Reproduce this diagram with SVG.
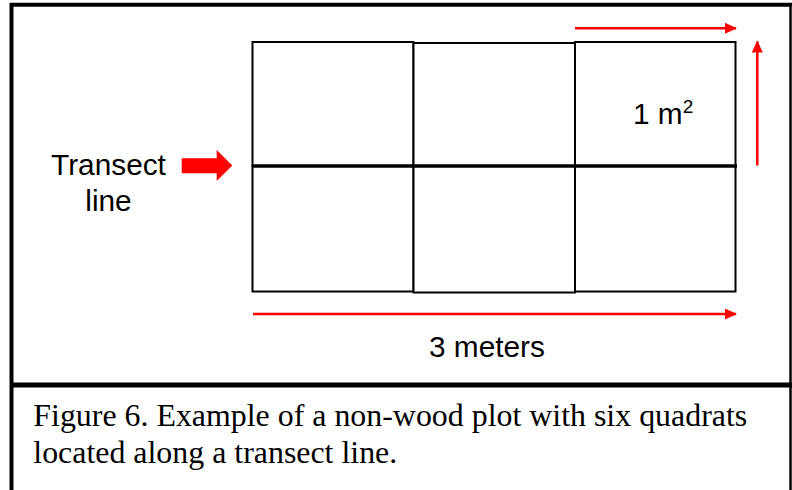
<svg xmlns="http://www.w3.org/2000/svg" width="792" height="490" viewBox="0 0 792 490">
<defs>
<style>
.frame{fill:none;stroke:#000}
.cell{fill:#fff;stroke:#000;stroke-width:2}
.red{stroke:#ff0000;stroke-width:2.5;fill:none}
.lbl{font-family:"Liberation Sans",Arial,sans-serif;font-size:29.8px;fill:#000}
.cap{font-family:"Liberation Serif","Times New Roman",serif;font-size:31.9px;fill:#000}
</style>
<marker id="ah" markerWidth="12" markerHeight="11" refX="11" refY="5.5" orient="auto" markerUnits="userSpaceOnUse">
<path d="M0,0 L12,5.5 L0,11 Z" fill="#ff0000"/>
</marker>
</defs>
<rect width="792" height="490" fill="#fff"/>
<g id="frame">
<line class="frame" x1="11.5" y1="3" x2="11.5" y2="490" stroke-width="4"/>
<line class="frame" x1="10" y1="4.8" x2="792" y2="4.8" stroke-width="4"/>
<line class="frame" x1="790.5" y1="3" x2="790.5" y2="490" stroke-width="2.5"/>
<line class="frame" x1="10" y1="385" x2="792" y2="385" stroke-width="5"/>
</g>
<g id="quadrats">
<rect id="q1" class="cell" x="252.5" y="42" width="161" height="124"/>
<rect id="q2" class="cell" x="413.5" y="43" width="161.5" height="124"/>
<rect id="q3" class="cell" x="575" y="42" width="160.5" height="124"/>
<rect id="q4" class="cell" x="252.5" y="166" width="161" height="125.5"/>
<rect id="q5" class="cell" x="413.5" y="166" width="161.5" height="126.5"/>
<rect id="q6" class="cell" x="575" y="166" width="160.5" height="125.5"/>
</g>
<g id="transect">
<line x1="252" y1="166" x2="737" y2="166" stroke="#000" stroke-width="3.5"/>
</g>
<g id="connectors">
<line class="red" x1="575" y1="28.3" x2="736" y2="28.3" marker-end="url(#ah)"/>
<line class="red" x1="757.3" y1="165.5" x2="757.3" y2="41.5" marker-end="url(#ah)"/>
<line class="red" x1="253" y1="314" x2="736" y2="314" marker-end="url(#ah)"/>
<path id="fat-arrow" d="M181.7,158.3 H216.7 V150 L232.3,165.5 L216.7,181 V173.3 H181.7 Z" fill="#ff0000"/>
</g>
<g id="labels">
<text class="lbl" x="108.5" y="175" text-anchor="middle">Transect</text>
<text class="lbl" x="108.5" y="210.7" text-anchor="middle">line</text>
<text class="lbl" x="633" y="124.3">1 m<tspan font-size="19" dy="-11">2</tspan></text>
<text class="lbl" x="429" y="356.7">3 meters</text>
</g>
<g id="caption">
<text class="cap" x="33.3" y="425.7">Figure 6. Example of a non-wood plot with six quadrats</text>
<text class="cap" x="33.3" y="462.7">located along a transect line.</text>
</g>
</svg>
